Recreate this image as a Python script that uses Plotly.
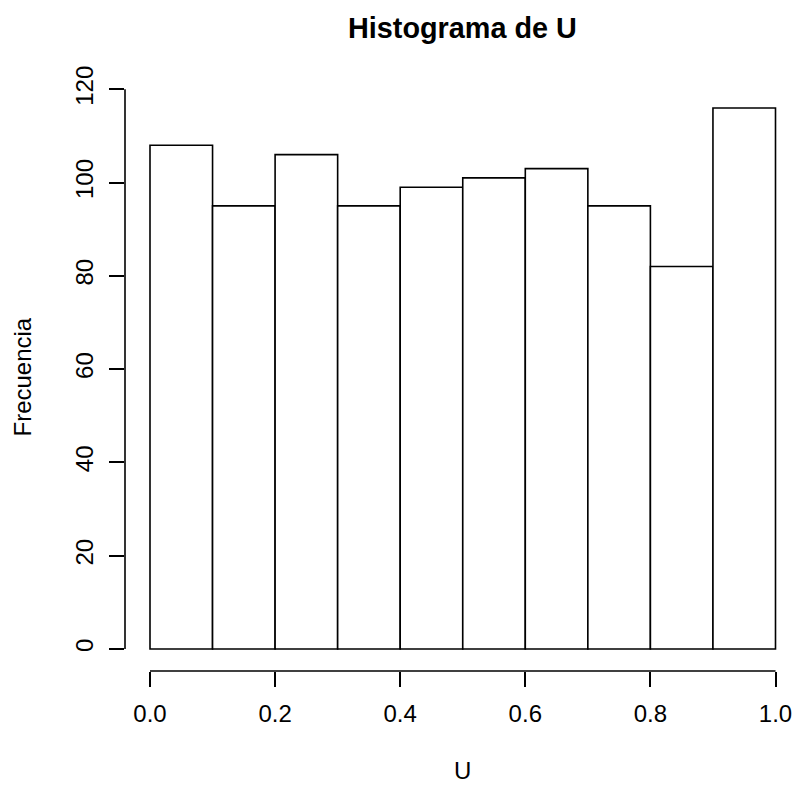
import plotly.graph_objects as go

# Histogram of 1000 uniform draws U, bins of width 0.1
bin_edges = [0.0, 0.1, 0.2, 0.3, 0.4, 0.5, 0.6, 0.7, 0.8, 0.9, 1.0]
counts = [108, 95, 106, 95, 99, 101, 103, 95, 82, 116]
x_ticks = [0.0, 0.2, 0.4, 0.6, 0.8, 1.0]
x_tick_labels = ["0.0", "0.2", "0.4", "0.6", "0.8", "1.0"]
y_ticks = [0, 20, 40, 60, 80, 100, 120]
y_tick_labels = ["0", "20", "40", "60", "80", "100", "120"]

W, H = 795, 787
ML, MR, MT, MB = 125, 0, 80, 116
plot_w = W - ML - MR
plot_h = H - MT - MB

# pixel scale of the data region
x0_px, x1_px = 150.0, 775.5
y0_px, y120_px = 649.0, 89.3
xppu = (x1_px - x0_px) / 1.0
yppu = (y0_px - y120_px) / 120.0
x_range = [(ML - x0_px) / xppu, (W - MR - x0_px) / xppu]
bottom_px = H - MB
y_range = [(y0_px - bottom_px) / yppu, (y0_px - MT) / yppu]

centers = [(a + b) / 2 for a, b in zip(bin_edges[:-1], bin_edges[1:])]
widths = [b - a for a, b in zip(bin_edges[:-1], bin_edges[1:])]

FONT = "Liberation Sans, Arial, Helvetica, sans-serif"

fig = go.Figure(
    go.Bar(
        x=centers,
        y=counts,
        width=widths,
        marker=dict(color="white", line=dict(color="black", width=1.6)),
        hoverinfo="x+y",
    )
)


def paper_y(px):
    return (bottom_px - px) / plot_h


def paper_x(px):
    return (px - ML) / plot_w


fig.update_layout(
    width=W,
    height=H,
    margin=dict(l=ML, r=MR, t=MT, b=MB),
    paper_bgcolor="white",
    plot_bgcolor="white",
    showlegend=False,
    font=dict(family=FONT, size=24, color="black"),
    xaxis=dict(
        range=x_range,
        tickmode="array",
        tickvals=x_ticks,
        ticktext=x_tick_labels,
        ticks="outside",
        ticklen=15,
        tickwidth=1.6,
        tickcolor="black",
        showline=False,
        showgrid=False,
        zeroline=False,
        tickfont=dict(size=24),
        ticklabelstandoff=6,
    ),
    yaxis=dict(
        range=y_range,
        tickmode="array",
        tickvals=y_ticks,
        ticktext=y_tick_labels,
        ticks="outside",
        ticklen=15,
        tickwidth=1.6,
        tickcolor="black",
        tickangle=-90,
        showline=False,
        showgrid=False,
        zeroline=False,
        tickfont=dict(size=24),
        ticklabelstandoff=6,
    ),
    shapes=[
        dict(type="line", xref="x", yref="paper", x0=x_ticks[0], x1=x_ticks[-1],
             y0=0, y1=0, line=dict(color="black", width=1.6)),
        dict(type="line", xref="paper", yref="y", x0=0, x1=0,
             y0=y_ticks[0], y1=y_ticks[-1], line=dict(color="black", width=1.6)),
    ],
    annotations=[
        dict(text="<b>Histograma de U</b>", xref="x", yref="paper", x=0.5,
             y=paper_y(28), xanchor="center", yanchor="middle", showarrow=False,
             font=dict(size=28.8, family=FONT)),
        dict(text="U", xref="x", yref="paper", x=0.5, y=paper_y(786),
             xanchor="center", yanchor="bottom", showarrow=False,
             font=dict(size=24, family=FONT)),
        dict(text="Frecuencia", xref="paper", yref="paper", x=paper_x(21.5),
             y=paper_y(377), xanchor="center", yanchor="middle", textangle=-90,
             showarrow=False, font=dict(size=24, family=FONT)),
    ],
)

fig.write_html("out.html")
